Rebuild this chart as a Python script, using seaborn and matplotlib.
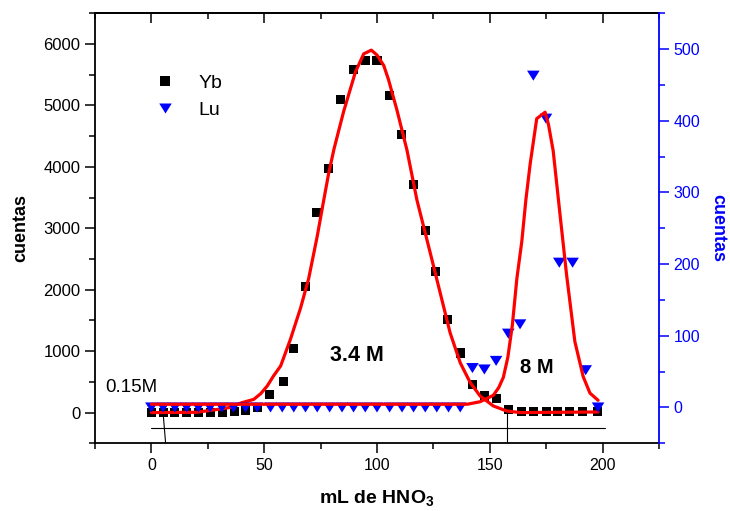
import matplotlib
matplotlib.use("Agg")
import matplotlib.pyplot as plt
import numpy as np
import pandas as pd
import seaborn as sns
from matplotlib.ticker import MultipleLocator
from matplotlib.lines import Line2D

# ---------------- data ----------------
yb_x = [0, 5.3, 10.3, 15.6, 20.9, 26.2, 31.4, 36.9, 41.7, 47.2, 52.5, 58.4, 62.8,
        68.3, 73.2, 78.6, 83.8, 89.4, 94.7, 100.0, 105.4, 110.7, 116.2, 121.7,
        126.1, 131.2, 136.9, 142.3, 147.6, 152.8, 158.2, 164.2, 169.2, 175.2,
        180.2, 185.5, 191.3, 197.9]
yb_y = [0, 0, 0, 0, 0, 0, 0, 10, 40, 90, 290, 500, 1040, 2050, 3250, 3970, 5100,
        5590, 5730, 5730, 5160, 4520, 3720, 2960, 2300, 1520, 970, 460, 270, 230,
        50, 20, 20, 20, 20, 20, 20, 20]

lu_x = [0, 5.2, 10.4, 15.6, 20.8, 26.0, 31.2, 36.4, 41.7, 46.9, 52.8, 58.0, 63.1,
        68.3, 73.5, 79.0, 84.5, 89.6, 94.8, 100.0, 105.6, 111.1, 116.2, 121.4,
        126.5, 131.7, 136.9, 142.3, 147.6, 152.8, 158.2, 163.4, 169.3, 174.9,
        180.8, 186.7, 192.5, 198.0]
lu_y = [0, 0, 0, 0, 0, 0, 0, 0, 0, 0, 0, 0, 0, 0, 0, 0, 0, 0, 0, 0, 0, 0, 0, 0, 0,
        0, 0, 55, 53, 65, 103, 116, 463, 403, 202, 202, 52, 0]

yb_fit_x = [0, 20, 29, 35, 40, 45.4, 48.5, 51.3, 54.2, 57.3, 61.6, 66.1, 69.7, 73.5,
            76.4, 78.6, 81, 85.2, 90.4, 94.1, 97.5, 100, 103, 105.1, 108.8, 113.3,
            117.7, 123.6, 128, 132.4, 136.9, 141.3, 145.7, 151.6, 157.5, 163.4,
            180, 198]
yb_fit_y = [0, 5, 50, 85, 160, 216, 310, 431, 600, 760, 1190, 1700, 2180, 2870,
            3460, 3900, 4300, 4900, 5540, 5840, 5900, 5820, 5650, 5420, 4930, 4270,
            3460, 2600, 1950, 1300, 810, 490, 270, 107, 26, 0, 5, 10]

lu_fit_x = [0, 140, 145.7, 151.6, 154, 156, 158, 160, 162, 164.2, 166, 167.9,
            170.8, 174.5, 176, 178.1, 181.1, 184, 187.7, 191.4, 194.4, 198]
lu_fit_y = [4.5, 4.5, 8, 17, 28, 42, 70, 115, 180, 232, 290, 340, 403, 412, 395,
            358, 270, 186, 92, 43, 20, 10]

guide_x = [0, 201]
guide_y = [-255, -255]
mark1_x = [5.3, 6.3]
mark1_y = [-55, -500]
mark2_x = [157.8, 157.8]
mark2_y = [26, -500]

series_names = ["Yb", "Lu"]
x_label = "mL de HNO$_3$"
y_label = "cuentas"

# ---------------- style ----------------
sns.set_theme(style="ticks")
plt.rcParams["font.family"] = ["Liberation Sans", "DejaVu Sans"]
plt.rcParams["mathtext.fontset"] = "custom"
plt.rcParams["mathtext.rm"] = "Liberation Sans:bold"
plt.rcParams["mathtext.it"] = "Liberation Sans:bold"
plt.rcParams["mathtext.bf"] = "Liberation Sans:bold"
plt.rcParams["text.color"] = "black"
plt.rcParams["axes.labelcolor"] = "black"

BLUE = "#0000FF"
RED = "#FF0000"
tri = np.array([(-1.0, 0.8), (1.0, 0.8), (0.0, -0.8), (-1.0, 0.8)])

fig = plt.figure(figsize=(7.3, 5.11), dpi=100)
ax = fig.add_axes([95 / 730, (511 - 443.3) / 511, (659 - 95) / 730, (443.3 - 13.3) / 511])
ax2 = ax.twinx()

# Yb on left axis
sns.scatterplot(data=pd.DataFrame({"x": yb_x, "y": yb_y}), x="x", y="y", ax=ax,
                marker="s", s=42, color="black", edgecolor="none", linewidth=0,
                legend=False, zorder=3)
sns.lineplot(data=pd.DataFrame({"x": yb_fit_x, "y": yb_fit_y}), x="x", y="y", ax=ax,
             color=RED, lw=2.3, sort=False, estimator=None, legend=False, zorder=4)

# annotation guide lines
ax.plot(guide_x, guide_y, color="black", lw=0.8, zorder=2)
ax.plot(mark1_x, mark1_y, color="black", lw=0.8, zorder=2)
ax.plot(mark2_x, mark2_y, color="black", lw=0.8, zorder=2)

# Lu on right axis
sns.scatterplot(data=pd.DataFrame({"x": lu_x, "y": lu_y}), x="x", y="y", ax=ax2,
                marker=tri, s=82, color=BLUE, edgecolor="none", linewidth=0,
                legend=False, zorder=3)
sns.lineplot(data=pd.DataFrame({"x": lu_fit_x, "y": lu_fit_y}), x="x", y="y", ax=ax2,
             color=RED, lw=2.3, sort=False, estimator=None, legend=False, zorder=4)

# limits & ticks
ax.set_xlim(-25, 225)
ax.set_ylim(-500, 6500)
ax2.set_ylim(-50, 550)
ax.xaxis.set_major_locator(MultipleLocator(50))
ax.xaxis.set_minor_locator(MultipleLocator(25))
ax.yaxis.set_major_locator(MultipleLocator(1000))
ax.yaxis.set_minor_locator(MultipleLocator(500))
ax2.yaxis.set_major_locator(MultipleLocator(100))
ax2.yaxis.set_minor_locator(MultipleLocator(50))

ax.tick_params(axis="both", which="major", direction="out", length=7, width=1.1,
               colors="black", bottom=True, left=True, top=False, right=False)
ax.tick_params(axis="x", which="major", labelsize=11.5)
ax.tick_params(axis="y", which="major", labelsize=12)
ax.tick_params(axis="both", which="minor", direction="out", length=4, width=1.1,
               colors="black", bottom=True, left=True, top=False, right=False)
ax2.tick_params(axis="y", which="major", direction="out", length=7, width=1.1,
                labelsize=11.5, colors=BLUE, right=True, left=False)
ax2.tick_params(axis="y", which="minor", direction="out", length=4, width=1.1,
                colors=BLUE, right=True, left=False)

secx = ax.secondary_xaxis("top")
secx.xaxis.set_major_locator(MultipleLocator(50))
secx.xaxis.set_minor_locator(MultipleLocator(25))
secx.tick_params(axis="x", which="major", direction="in", length=7, width=1.1,
                 labeltop=False, colors="black")
secx.tick_params(axis="x", which="minor", direction="in", length=4, width=1.1,
                 labeltop=False, colors="black")
secx.spines["top"].set_linewidth(1.3)
secx.spines["top"].set_color("black")

for side in ["left", "bottom", "top"]:
    ax.spines[side].set_linewidth(1.3)
    ax.spines[side].set_color("black")
ax.spines["right"].set_visible(False)
for side in ["left", "bottom", "top"]:
    ax2.spines[side].set_visible(False)
ax2.spines["right"].set_color(BLUE)
ax2.spines["right"].set_linewidth(1.3)

# labels
ax.set_xlabel(x_label, fontsize=14, fontweight="bold", labelpad=11)
ax.set_ylabel(y_label, fontsize=13, fontweight="bold", labelpad=10)
ax2.set_ylabel(y_label, fontsize=13, fontweight="bold", color=BLUE, rotation=270,
               labelpad=19)

# text annotations (left-axis data coords)
ax.text(-8.8, 410, "0.15M", fontsize=13.5, ha="center", va="center")
ax.text(91.3, 931, "3.4 M", fontsize=15.5, fontweight="bold", ha="center", va="center")
ax.text(170.9, 736, "8 M", fontsize=14.5, fontweight="bold", ha="center", va="center")

# legend
handles = [Line2D([], [], marker="s", ls="none", color="black", markersize=6.5,
                  markeredgewidth=0),
           Line2D([], [], marker=tri, ls="none", color=BLUE, markersize=9,
                  markeredgewidth=0)]
ax2.legend(handles, series_names, loc="upper left", bbox_to_anchor=(0.09, 0.858),
           frameon=False, fontsize=14, handlelength=2.0, handletextpad=0.7,
           labelspacing=0.5, borderpad=0, borderaxespad=0)

fig.savefig("out.png", dpi=100)
